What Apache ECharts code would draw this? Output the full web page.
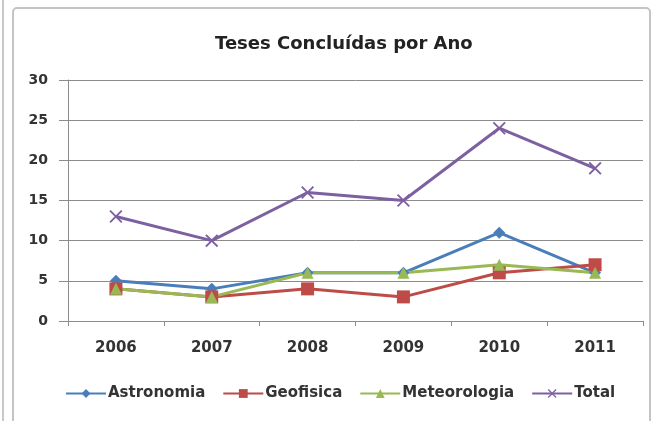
<!DOCTYPE html>
<html>
<head>
<meta charset="utf-8">
<script src="https://cdn.jsdelivr.net/npm/echarts@6/dist/echarts.min.js"></script>
<style>
html, body { margin: 0; padding: 0; background: #fff; }
#chart { width: 663px; height: 421px; }
</style>
</head>
<body>
<div id="chart"></div>
<script>
// dados do gráfico
const anos = ['2006', '2007', '2008', '2009', '2010', '2011'];
const astronomia = [5, 4, 6, 6, 11, 6];
const geofisica = [4, 3, 4, 3, 6, 7];
const meteorologia = [4, 3, 6, 6, 7, 6];
const total = [13, 10, 16, 15, 24, 19];

const fonte = 'DejaVu Sans';
const xSymbol = 'path://M0,1L1,0L5,4L9,0L10,1L6,5L10,9L9,10L5,6L1,10L0,9L4,5Z';

const myChart = echarts.init(document.getElementById('chart'));

function serie(name, data, color, symbol, size) {
    return {
        name: name,
        type: 'line',
        data: data,
        symbol: symbol,
        symbolSize: size,
        lineStyle: { color: color, width: 3 },
        itemStyle: { color: color },
        emphasis: { disabled: true }
    };
}

const option = {
    animation: false,
    graphic: [
        { type: 'line', shape: { x1: 3, y1: 0, x2: 3, y2: 421 }, style: { stroke: '#c8c8c8', lineWidth: 2 } },
        { type: 'rect', shape: { x: 13, y: 8, width: 637, height: 430, r: 4 }, style: { fill: 'none', stroke: '#c4c4c4', lineWidth: 2 } }
    ],
    title: {
        text: 'Teses Concluídas por Ano',
        left: 210,
        top: 30,
        textStyle: { fontFamily: fonte, fontSize: 18, fontWeight: 'bold', color: '#222' }
    },
    legend: {
        bottom: 15,
        left: 60,
        itemWidth: 40,
        itemHeight: 11,
        itemGap: 17,
        textStyle: { fontFamily: fonte, fontSize: 15, fontWeight: 'bold', color: '#333', padding: [0, 0, 0, -3] },
        data: ['Astronomia', 'Geofisica', 'Meteorologia', 'Total']
    },
    grid: { left: 68, right: 20, top: 80, bottom: 100 },
    xAxis: {
        type: 'category',
        data: anos,
        boundaryGap: true,
        axisLine: { lineStyle: { color: '#8c8c8c', width: 1 } },
        axisTick: { show: true, length: 5, lineStyle: { color: '#8c8c8c' } },
        axisLabel: { fontFamily: fonte, fontSize: 15, fontWeight: 'bold', color: '#333', margin: 20 }
    },
    yAxis: {
        type: 'value',
        min: 0,
        max: 30,
        interval: 5,
        axisLine: { show: true, lineStyle: { color: '#8c8c8c', width: 1 } },
        axisTick: { show: true, length: 9, lineStyle: { color: '#8c8c8c' } },
        axisLabel: { fontFamily: fonte, fontSize: 14, fontWeight: 'bold', color: '#333', margin: 20 },
        splitLine: { lineStyle: { color: '#8c8c8c', width: 1 } }
    },
    series: [
        serie('Astronomia', astronomia, '#4a7ebb', 'diamond', 12),
        serie('Geofisica', geofisica, '#be4b48', 'rect', 13),
        serie('Meteorologia', meteorologia, '#98b954', 'triangle', 12),
        serie('Total', total, '#7d60a0', xSymbol, 13)
    ]
};

myChart.setOption(option);
window.addEventListener('resize', function () {
    myChart.resize();
});
</script>
</body>
</html>
